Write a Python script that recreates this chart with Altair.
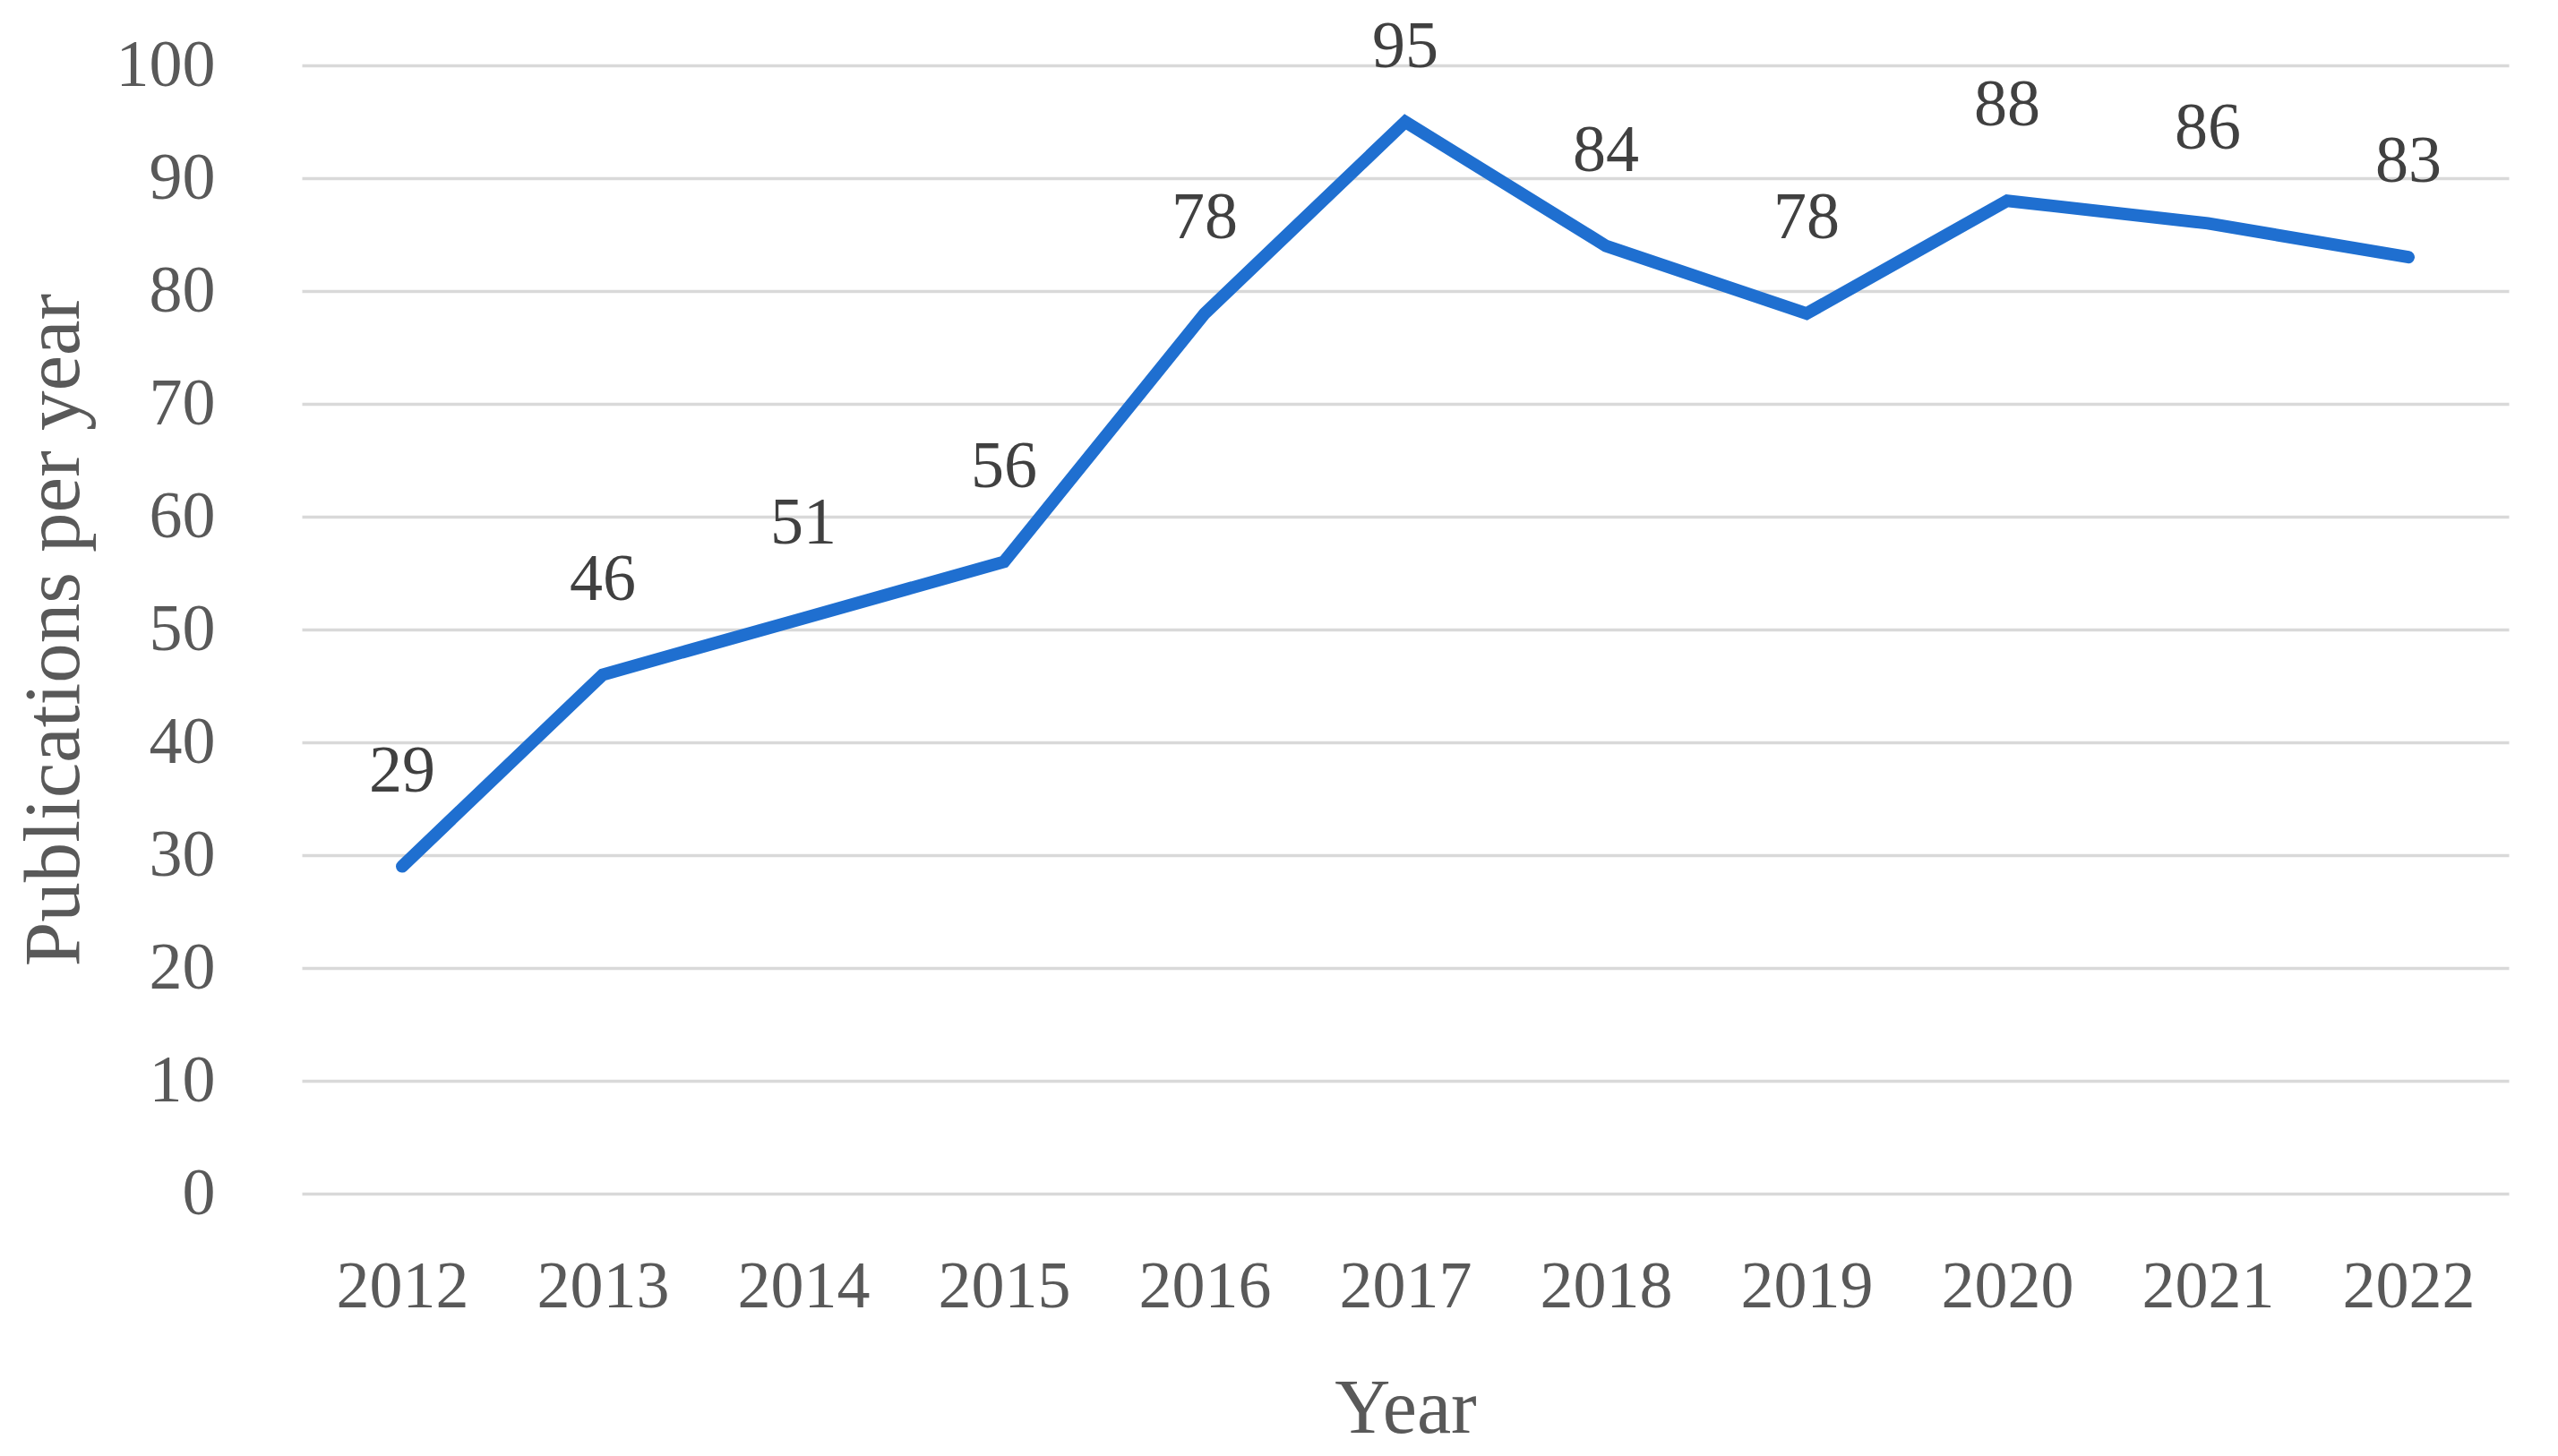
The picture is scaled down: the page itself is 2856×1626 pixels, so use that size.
import altair as alt
import pandas as pd

years = ["2012", "2013", "2014", "2015", "2016", "2017", "2018", "2019", "2020", "2021", "2022"]
publications = [29, 46, 51, 56, 78, 95, 84, 78, 88, 86, 83]
y_ticks = [0, 10, 20, 30, 40, 50, 60, 70, 80, 90, 100]

df = pd.DataFrame({"year": years, "v": publications})

FONT = "Liberation Serif"
LINE_COLOR = "#1f6fd0"

x_enc = alt.X(
    "year:O",
    sort=years,
    scale=alt.Scale(type="point", padding=0.5),
    axis=alt.Axis(
        title="Year",
        domain=False,
        ticks=False,
        grid=False,
        labelAngle=0,
        labelFont=FONT,
        labelFontSize=74,
        labelColor="#595959",
        labelPadding=68,
        titleFont=FONT,
        titleFontSize=86,
        titleFontWeight="normal",
        titleColor="#595959",
        titleBaseline="alphabetic",
        titleY=266,
        titleX=1232,
    ),
)

y_scale = alt.Scale(domain=[0, 100], nice=False, zero=True)

base = alt.Chart(df)

line = base.mark_line(
    color=LINE_COLOR, strokeWidth=14, strokeCap="round", strokeJoin="miter"
).encode(
    x=x_enc,
    y=alt.Y(
        "v:Q",
        scale=y_scale,
        axis=alt.Axis(
            values=y_ticks,
            title="Publications per year",
            grid=True,
            gridColor="#d9d9d9",
            gridWidth=3.5,
            domain=False,
            ticks=False,
            labelFont=FONT,
            labelFontSize=74,
            labelColor="#595959",
            labelPadding=97,
            titleFont=FONT,
            titleFontSize=89,
            titleFontWeight="normal",
            titleColor="#595959",
            titleAngle=270,
            titleAlign="center",
            titleBaseline="alphabetic",
            titleX=-250,
            titleY=630,
        ),
    ),
)

labels = base.transform_calculate(
    ly="min(datum.v + 8.4, 101.6)"
).mark_text(
    font=FONT, fontSize=74, color="#404040", baseline="middle", align="center"
).encode(
    x=alt.X("year:O", sort=years, scale=alt.Scale(type="point", padding=0.5)),
    y=alt.Y("ly:Q", scale=y_scale),
    text=alt.Text("v:Q"),
)

chart = (
    alt.layer(line, labels)
    .properties(
        width=2464,
        height=1260,
        autosize=alt.AutoSizeParams(type="none"),
        padding={"left": 329, "top": 65, "right": 47, "bottom": 285},
        background="white",
    )
    .configure_view(stroke=None)
)

chart.save("out.html", embed_options={"renderer": "svg", "actions": False})
